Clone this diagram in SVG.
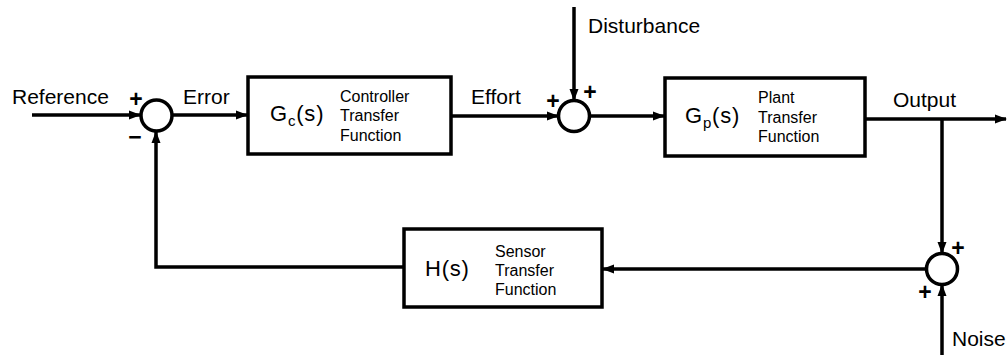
<svg xmlns="http://www.w3.org/2000/svg" width="1008" height="355" viewBox="0 0 1008 355">
<style>
  .lbl { font-family: "Liberation Sans", Arial, sans-serif; font-size: 21px; fill: #000; }
  .sg { font-family: "Liberation Sans", Arial, sans-serif; font-size: 23px; font-weight: bold; fill: #000; }
  .fn { font-family: "Liberation Sans", Arial, sans-serif; font-size: 22px; fill: #000; letter-spacing: 0.8px; }
  .sm { font-family: "Liberation Sans", Arial, sans-serif; font-size: 16px; fill: #000; }
  .box { fill: #fff; stroke: #000; stroke-width: 3.5; }
  .sum { fill: #fff; stroke: #000; stroke-width: 3.5; }
  .wire { fill: none; stroke: #000; stroke-width: 3.5; }
  .arr { fill: none; stroke: #000; stroke-width: 3.5; marker-end: url(#ah); }
</style>
<defs>
  <marker id="ah" markerUnits="userSpaceOnUse" markerWidth="12" markerHeight="10" refX="11" refY="5" orient="auto">
    <path d="M0,0.5 L12,5 L0,9.5 z" fill="#000"/>
  </marker>
</defs>
<rect width="1008" height="355" fill="#fff"/>

<g id="connectors">
  <path class="arr" d="M32,115 L140,115"/>
  <path class="arr" d="M173,115 L247,115"/>
  <path class="arr" d="M451,116 L558,116"/>
  <path class="arr" d="M574,7 L574,100"/>
  <path class="arr" d="M590,116 L664,116"/>
  <path class="arr" d="M865,119 L1006,119"/>
  <path class="arr" d="M942,119 L942,253"/>
  <path class="arr" d="M942,355 L942,285"/>
  <path class="arr" d="M926,269 L603,269"/>
  <path class="arr" d="M404,267 L156,267 L156,132"/>
</g>

<g id="sum1">
  <circle class="sum" cx="156.5" cy="115.5" r="15.5"/>
  <text class="sg" x="136" y="107" text-anchor="middle">+</text>
  <text class="sg" x="135" y="145" text-anchor="middle">−</text>
</g>

<g id="controller">
  <rect class="box" x="248" y="77" width="203" height="77"/>
  <text class="fn" x="270" y="121">G<tspan font-size="15" dy="5">c</tspan><tspan dy="-5">(s)</tspan></text>
  <text class="sm" x="340" y="102">Controller</text>
  <text class="sm" x="340" y="121">Transfer</text>
  <text class="sm" x="340" y="141">Function</text>
</g>

<g id="sum2">
  <circle class="sum" cx="574" cy="116" r="15.5"/>
  <text class="sg" x="553" y="109" text-anchor="middle">+</text>
  <text class="sg" x="590" y="100" text-anchor="middle">+</text>
</g>

<g id="plant">
  <rect class="box" x="665" y="78" width="200" height="78"/>
  <text class="fn" x="685" y="123">G<tspan font-size="15" dy="5">p</tspan><tspan dy="-5">(s)</tspan></text>
  <text class="sm" x="758" y="103">Plant</text>
  <text class="sm" x="758" y="123">Transfer</text>
  <text class="sm" x="758" y="142">Function</text>
</g>

<g id="sum3">
  <circle class="sum" cx="942" cy="269" r="15.5"/>
  <text class="sg" x="958" y="256" text-anchor="middle">+</text>
  <text class="sg" x="925" y="300" text-anchor="middle">+</text>
</g>

<g id="sensor">
  <rect class="box" x="404" y="229" width="198" height="78"/>
  <text class="fn" x="425" y="276">H(s)</text>
  <text class="sm" x="495" y="257">Sensor</text>
  <text class="sm" x="495" y="276">Transfer</text>
  <text class="sm" x="495" y="295">Function</text>
</g>

<g id="labels">
  <text class="lbl" x="12" y="104">Reference</text>
  <text class="lbl" x="183" y="104">Error</text>
  <text class="lbl" x="471" y="104">Effort</text>
  <text class="lbl" x="588" y="33">Disturbance</text>
  <text class="lbl" x="893" y="107">Output</text>
  <text class="lbl" x="952" y="346">Noise</text>
</g>
</svg>
